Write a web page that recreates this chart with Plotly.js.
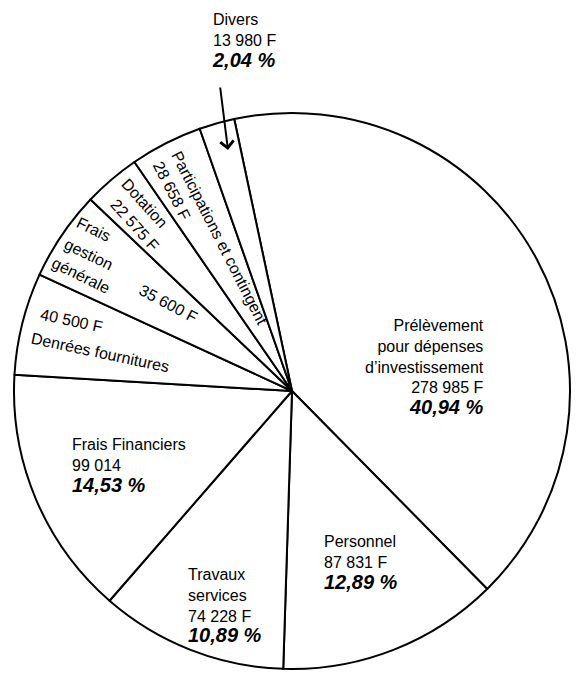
<!DOCTYPE html>
<html><head><meta charset="utf-8">
<script src="https://cdn.plot.ly/plotly-3.0.1.min.js"></script>
<style>html,body{margin:0;padding:0;background:#fff;}</style>
</head><body>
<div id="chart" style="width:576px;height:679px;"></div>
<script>
// ---- data ----
const labels = ['Prélèvement pour dépenses d’investissement', 'Personnel', 'Travaux services',
  'Frais Financiers', 'Denrées fournitures', 'Frais gestion générale', 'Dotation',
  'Participations et contingent', 'Divers'];
const values = [278985, 87831, 74228, 99014, 40500, 35600, 22575, 28658, 13980];
const amounts = ['278 985 F', '87 831 F', '74 228 F', '99 014', '40 500 F', '35 600 F', '22 575 F', '28 658 F', '13 980 F'];
const percents = ['40,94 %', '12,89 %', '10,89 %', '14,53 %', '', '', '', '', '2,04 %'];

// ---- layout helpers ----
const W = 576, H = 679;
const CX = 292, CY = 391, R = 278;
const FONT = 'Liberation Sans, Arial, Helvetica, sans-serif';
const px = x => x / W, py = y => 1 - y / H;
const pct = s => '<span style="font-size:20px"><b><i>' + s + '</i></b></span>';

function ann(text, x, y, o) {
  o = o || {};
  return Object.assign({
    text: text, x: px(x), y: py(y), xref: 'paper', yref: 'paper',
    showarrow: false, xanchor: 'center', yanchor: 'middle', align: 'left',
    font: {family: FONT, size: 16, color: '#000'}
  }, o);
}

const annotations = [
  ann('Prélèvement<br>pour dépenses<br>d’investissement<br>' + amounts[0] + '<br>' + pct(percents[0]),
      486, 367, {xanchor: 'right', align: 'right'}),
  ann(labels[1] + '<br>' + amounts[1] + '<br>' + pct(percents[1]), 322, 563, {xanchor: 'left'}),
  ann('Travaux<br>services<br>' + amounts[2] + '<br>' + pct(percents[2]), 186, 606, {xanchor: 'left'}),
  ann(labels[3] + '<br>' + amounts[3] + '<br>' + pct(percents[3]), 70, 466, {xanchor: 'left'}),
  ann(amounts[4], 71, 320, {textangle: 12}),
  ann('Denrées fournitures', 100, 352, {textangle: 12}),
  ann('Frais', 94, 229, {textangle: 26}),
  ann('gestion', 89, 254, {textangle: 26}),
  ann('générale', 81, 275, {textangle: 26}),
  ann(amounts[5], 168, 303, {textangle: 28}),
  ann(labels[6], 145, 203, {textangle: 48}),
  ann(amounts[6], 134, 225, {textangle: 48}),
  ann(labels[7], 219, 238, {textangle: 63}),
  ann(amounts[7], 172, 190, {textangle: 63}),
  ann(labels[8] + '<br>' + amounts[8] + '<br>' + pct(percents[8]), 210, 41, {xanchor: 'left'}),
  // arrow pointing into the Divers slice
  {x: px(228), y: py(150), xref: 'paper', yref: 'paper', text: '', showarrow: true,
   ax: -8, ay: -64, arrowhead: 4, arrowsize: 1.3, arrowwidth: 2, arrowcolor: '#000'}
];

const trace = {
  type: 'pie', labels: labels, values: values, sort: false, direction: 'clockwise',
  rotation: -12, textinfo: 'none', hoverinfo: 'skip', showlegend: false,
  marker: {colors: labels.map(() => '#ffffff'), line: {color: '#000', width: 2}},
  domain: {x: [(CX - R) / W, (CX + R) / W], y: [1 - (CY + R) / H, 1 - (CY - R) / H]}
};

Plotly.newPlot('chart', [trace], {
  width: W, height: H, margin: {l: 0, r: 0, t: 0, b: 0},
  paper_bgcolor: '#fff', plot_bgcolor: '#fff', showlegend: false,
  annotations: annotations
}, {staticPlot: true});
</script>
</body></html>
